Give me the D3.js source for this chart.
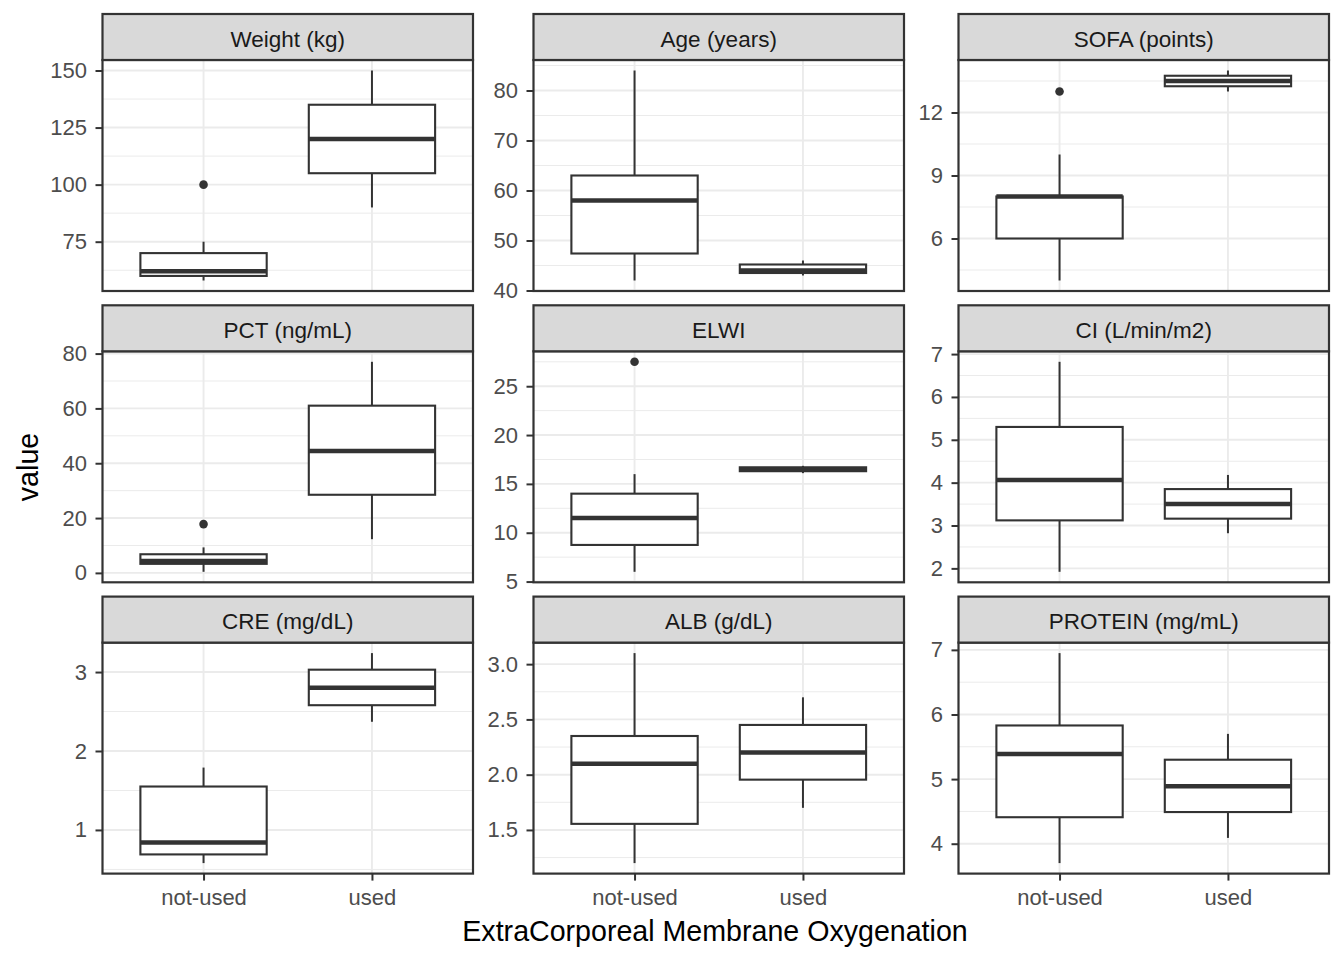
<!DOCTYPE html>
<html>
<head>
<meta charset="utf-8">
<script src="https://cdn.jsdelivr.net/npm/d3@7"></script>
<style>
  body { margin: 0; background: #fff; }
  svg { font-family: "Liberation Sans", Arial, sans-serif; }
</style>
</head>
<body>
<svg id="chart" width="1344" height="960"></svg>
<script>
// facets, in facet_wrap order
var facets = ["Weight (kg)", "Age (years)", "SOFA (points)",
              "PCT (ng/mL)", "ELWI", "CI (L/min/m2)",
              "CRE (mg/dL)", "ALB (g/dL)", "PROTEIN (mg/mL)"];
var groups = ["not-used", "used"];

// [lower whisker, q1, median, q3, upper whisker]
var notUsedStats = [
    [58, 60, 62, 70, 75],
    [42, 47.4, 58, 63, 84],
    [4, 6, 8, 8, 10],
    [0.4, 3.3, 4.3, 6.8, 9.3],
    [6, 8.75, 11.5, 14, 16],
    [1.92, 3.12, 4.06, 5.3, 6.82],
    [0.58, 0.69, 0.84, 1.55, 1.79],
    [1.2, 1.555, 2.1, 2.35, 3.1],
    [3.7, 4.41, 5.39, 5.83, 6.95]
];
var usedStats = [
    [90, 105, 120, 135, 150],
    [43, 43.5, 44, 45.2, 46],
    [13, 13.25, 13.5, 13.75, 14],
    [12.3, 28.5, 44.5, 61, 77],
    [16.1, 16.3, 16.5, 16.7, 16.85],
    [2.82, 3.16, 3.5, 3.85, 4.18],
    [2.37, 2.58, 2.8, 3.03, 3.24],
    [1.7, 1.955, 2.2, 2.45, 2.7],
    [4.09, 4.49, 4.89, 5.3, 5.7]
];
var notUsedOutliers = [[100], [], [13], [17.8], [27.5], [], [], [], []];
var usedOutliers = [[], [], [], [], [], [], [], [], []];

var yTicks = [
    [75, 100, 125, 150],
    [40, 50, 60, 70, 80],
    [6, 9, 12],
    [0, 20, 40, 60, 80],
    [5, 10, 15, 20, 25],
    [2, 3, 4, 5, 6, 7],
    [1, 2, 3],
    [1.5, 2.0, 2.5, 3.0],
    [4, 5, 6, 7]
];

var svg = d3.select("#chart");
var colLeft = [102.5, 533.5, 958.5];
var stripTop = [14, 305.3, 596.6];
var panelW = 370.5, stripH = 46, panelH = 231;
var dark = "#333333";

facets.forEach(function (name, i) {
    var col = i % 3, row = Math.floor(i / 3);
    var x0 = colLeft[col], top = stripTop[row] + stripH;
    var g = svg.append("g").attr("transform", "translate(" + x0 + "," + top + ")");

    var boxes = [
        {grp: groups[0], s: notUsedStats[i], out: notUsedOutliers[i]},
        {grp: groups[1], s: usedStats[i], out: usedOutliers[i]}
    ];
    var all = [];
    boxes.forEach(function (b) { all = all.concat(b.s, b.out); });
    var lo = d3.min(all), hi = d3.max(all), pad = (hi - lo) * 0.05;

    var y = d3.scaleLinear().domain([lo - pad, hi + pad]).range([panelH, 0]);
    var x = d3.scalePoint().domain(groups).range([0, panelW]).padding(0.6);
    var bw = x.step() * 0.75;

    // minor grid at midpoints
    var t = yTicks[i], step = t[1] - t[0], minor = [];
    for (var k = -1; k < t.length; k++) minor.push(t[0] + step * (k + 0.5));
    minor = minor.filter(function (v) { return v >= y.domain()[0] && v <= y.domain()[1]; });

    g.selectAll(".minor").data(minor).enter().append("line")
        .attr("x1", 0).attr("x2", panelW)
        .attr("y1", function (d) { return y(d); }).attr("y2", function (d) { return y(d); })
        .attr("stroke", "#EBEBEB").attr("stroke-width", 1);
    g.selectAll(".major").data(t).enter().append("line")
        .attr("x1", 0).attr("x2", panelW)
        .attr("y1", function (d) { return y(d); }).attr("y2", function (d) { return y(d); })
        .attr("stroke", "#EBEBEB").attr("stroke-width", 1.9);
    g.selectAll(".vmajor").data(groups).enter().append("line")
        .attr("x1", function (d) { return x(d); }).attr("x2", function (d) { return x(d); })
        .attr("y1", 0).attr("y2", panelH)
        .attr("stroke", "#EBEBEB").attr("stroke-width", 1.9);

    // boxplots
    boxes.forEach(function (b) {
        var cx = x(b.grp), s = b.s;
        g.append("line").attr("x1", cx).attr("x2", cx)
            .attr("y1", y(s[3])).attr("y2", y(s[4]))
            .attr("stroke", dark).attr("stroke-width", 2);
        g.append("line").attr("x1", cx).attr("x2", cx)
            .attr("y1", y(s[1])).attr("y2", y(s[0]))
            .attr("stroke", dark).attr("stroke-width", 2);
        g.append("rect").attr("x", cx - bw / 2).attr("width", bw)
            .attr("y", y(s[3])).attr("height", y(s[1]) - y(s[3]))
            .attr("fill", "#fff").attr("stroke", dark).attr("stroke-width", 2.1);
        g.append("line").attr("x1", cx - bw / 2).attr("x2", cx + bw / 2)
            .attr("y1", y(s[2])).attr("y2", y(s[2]))
            .attr("stroke", dark).attr("stroke-width", 4.5);
        g.selectAll(null).data(b.out).enter().append("circle")
            .attr("cx", cx).attr("cy", function (d) { return y(d); })
            .attr("r", 4.3).attr("fill", dark);
    });

    // panel border
    g.append("rect").attr("x", 0).attr("y", 0).attr("width", panelW).attr("height", panelH)
        .attr("fill", "none").attr("stroke", dark).attr("stroke-width", 2.2);

    // strip
    svg.append("rect").attr("x", x0).attr("y", stripTop[row])
        .attr("width", panelW).attr("height", stripH)
        .attr("fill", "#D9D9D9").attr("stroke", dark).attr("stroke-width", 2.2);
    svg.append("text").attr("x", x0 + panelW / 2).attr("y", stripTop[row] + 32.5)
        .attr("text-anchor", "middle").attr("font-size", 22.5).attr("fill", "#1A1A1A")
        .text(name);

    // y axis
    var fmt = t.some(function (v) { return v % 1 !== 0; }) ? d3.format(".1f") : d3.format("d");
    var ya = g.append("g").call(d3.axisLeft(y).tickValues(t).tickFormat(fmt).tickSize(7).tickPadding(8.5));
    ya.select(".domain").remove();
    ya.selectAll("line").attr("stroke", dark).attr("stroke-width", 2);
    ya.selectAll("text").attr("font-size", 22).attr("fill", "#4D4D4D")
        .attr("font-family", "Liberation Sans, Arial, sans-serif");

    // x axis on bottom row
    if (row === 2) {
        var xa = g.append("g").attr("transform", "translate(0," + panelH + ")")
            .call(d3.axisBottom(x).tickSize(7).tickPadding(9));
        xa.select(".domain").remove();
        xa.selectAll("line").attr("stroke", dark).attr("stroke-width", 2);
        xa.selectAll("text").attr("font-size", 22).attr("fill", "#4D4D4D")
            .attr("font-family", "Liberation Sans, Arial, sans-serif");
    }
});

svg.append("text").attr("x", 715).attr("y", 941).attr("text-anchor", "middle")
    .attr("font-size", 28.6).attr("fill", "#000")
    .text("ExtraCorporeal Membrane Oxygenation");
svg.append("text").attr("transform", "translate(38,467) rotate(-90)")
    .attr("text-anchor", "middle").attr("font-size", 28.6).attr("fill", "#000")
    .text("value");
</script>
</body>
</html>
